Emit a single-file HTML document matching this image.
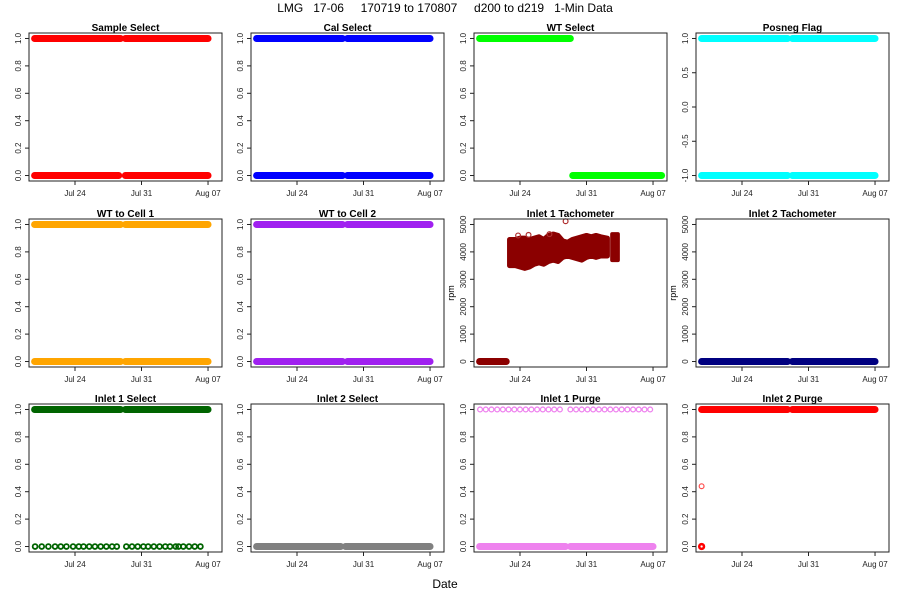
<!DOCTYPE html>
<html><head><meta charset="utf-8"><style>
body{margin:0;background:#fff}
svg{display:block;font-family:"Liberation Sans",Arial,sans-serif}
</style></head><body>
<svg id="c" width="900" height="600" xmlns="http://www.w3.org/2000/svg">
<text x="445" y="12" text-anchor="middle" font-size="12" xml:space="preserve">LMG   17-06     170719 to 170807     d200 to d219   1-Min Data</text>
<text x="445" y="588" text-anchor="middle" font-size="12">Date</text>
</svg>
<script>
// x in days since Jul 19 00:00
const xTickDays=[5,12,19];
const xTickLabels=["Jul 24","Jul 31","Aug 07"];
const binTicks=[0,0.2,0.4,0.6,0.8,1];
const binTickLabels=["0.0","0.2","0.4","0.6","0.8","1.0"];
const pnTicks=[-1,-0.5,0,0.5,1];
const pnTickLabels=["-1.0","-0.5","0.0","0.5","1.0"];
const rpmTicks=[0,1000,2000,3000,4000,5000];
const rpmTickLabels=["0","1000","2000","3000","4000","5000"];
// segments: [startDay,endDay,value]
const segSample=[[0.75,9.8,1],[10.3,19.0,1],[0.75,9.6,0],[10.3,19.0,0]];
const segCal=[[0.75,9.8,1],[10.3,19.0,1],[0.75,9.8,0],[10.3,19.0,0]];
const segWT=[[0.75,10.3,1],[10.55,19.9,0]];
const segPosneg=[[0.75,9.8,1],[10.3,19.0,1],[0.75,9.8,-1],[10.3,19.0,-1]];
const segWT1=[[0.75,9.8,1],[10.3,19.0,1],[0.75,9.8,0],[10.3,19.0,0]];
const segWT2=[[0.75,9.8,1],[10.3,19.0,1],[0.75,9.8,0],[10.3,19.0,0]];
const segTach1=[[0.75,3.55,0]];
// tachometer blob: day, low, high
const tachDays=[3.9,4.5,5.0,5.5,6.0,6.5,7.0,7.5,8.0,8.5,9.0,9.5,10.0,10.5,11.0,11.5,12.0,12.5,13.0,13.5,14.2];
const tachLow=[3500,3500,3450,3400,3450,3550,3600,3550,3650,3700,3650,3800,3850,3800,3750,3700,3800,3850,3800,3850,3850];
const tachHigh=[4450,4450,4500,4500,4450,4500,4550,4450,4600,4650,4600,4400,4350,4450,4500,4550,4600,4550,4600,4550,4500];
const tachBlock2=[[14.7,15.3,3700,4650]];
const tachOutlierDays=[9.8,4.8,5.9,8.1];
const tachOutlierVals=[5120,4600,4620,4650];
const segTach2=[[0.75,9.8,0],[10.3,19.0,0]];
const segIn1Sel=[[0.75,9.8,1],[10.3,19.0,1]];
const in1SelCircDays=[0.8,1.5,2.2,2.9,3.5,4.1,4.8,5.4,5.9,6.5,7.1,7.7,8.3,8.9,9.4,10.4,11.0,11.6,12.2,12.7,13.3,13.9,14.5,15.0,15.6,15.9,16.4,17.0,17.6,18.2];
const segIn2Sel=[[0.75,9.6,0],[10.1,19.0,0]];
const segIn1Purge=[[0.75,9.8,0],[10.3,19.0,0]];
const in1PurgeCircDays=[0.8,1.4,2.0,2.6,3.2,3.8,4.4,5.0,5.6,6.2,6.8,7.4,8.0,8.6,9.2,10.3,10.9,11.5,12.1,12.7,13.3,13.9,14.5,15.1,15.7,16.3,16.9,17.5,18.1,18.7];
const segIn2Purge=[[0.75,9.8,1],[10.3,19.0,1]];
const in2PurgeCircDays=[0.75,0.75];
const in2PurgeCircVals=[0.44,0];

const svg=document.getElementById('c');
const NS='http://www.w3.org/2000/svg';
function mk(t,a){const e=document.createElementNS(NS,t);for(const k in a)e.setAttribute(k,a[k]);return e;}
const colL=[29,251,474,696], rowT=[33,219,404], W=193, H=148;
const x0=0.16,x1=20.47;

function panel(ci,ri,title,name,yr,ticks,labels,color,draw,ylab){
  const L=colL[ci],T=rowT[ri];
  const g=mk('g',{});
  
  
  svg.appendChild(g);
  const pad=(yr[1]-yr[0])*0.04;
  const ymin=yr[0]-pad,ymax=yr[1]+pad;
  const X=d=>L+(d-x0)/(x1-x0)*W;
  const Y=v=>T+H-(v-ymin)/(ymax-ymin)*H;
  const t=mk('text',{x:L+W/2,y:T-2,'text-anchor':'middle','font-size':'10','font-weight':'bold'});
  
  
  t.textContent=title;g.appendChild(t);
  const data=mk('g',{});
  
  
  g.appendChild(data);
  draw(data,X,Y,color);
  const box=mk('rect',{x:L,y:T,width:W,height:H,fill:'none',stroke:'#222','stroke-width':1});
  
  
  g.appendChild(box);
  ticks.forEach((v,i)=>{
    const y=Y(v);
    g.appendChild(mk('line',{x1:L,x2:L-4,y1:y,y2:y,stroke:'#222'}));
    const tx=mk('text',{x:L-8,y:y,'text-anchor':'middle','font-size':'8',fill:'#222',transform:`rotate(-90 ${L-8} ${y})`});
    
    
    tx.textContent=labels[i];g.appendChild(tx);
  });
  xTickDays.forEach((d,i)=>{
    const x=X(d);
    g.appendChild(mk('line',{x1:x,x2:x,y1:T+H,y2:T+H+4,stroke:'#222'}));
    const tx=mk('text',{x:x,y:T+H+15,'text-anchor':'middle','font-size':'8',fill:'#222'});
    
    
    tx.textContent=xTickLabels[i];g.appendChild(tx);
  });
  if(ylab){
    const tx=mk('text',{x:L-20,y:T+H/2,'text-anchor':'middle','font-size':'9',transform:`rotate(-90 ${L-20} ${T+H/2})`});
    
    
    tx.textContent=ylab;g.appendChild(tx);
  }
}
function segs(s){return (g,X,Y,c)=>{s.forEach(q=>{
  const l=mk('line',{x1:X(q[0]),x2:X(q[1]),y1:Y(q[2]),y2:Y(q[2]),stroke:c,'stroke-width':7,'stroke-linecap':'round'});
  
  
  g.appendChild(l);});};}
function circles(g,X,Y,days,vals,c,sw){days.forEach((d,i)=>{
  const e=mk('circle',{cx:X(d),cy:Y(vals[i]),r:2.4,fill:'none',stroke:c,'stroke-width':sw||1.5});
  
  
  g.appendChild(e);});}
function combo(s,days,vals,sw){return (g,X,Y,c)=>{segs(s)(g,X,Y,c);circles(g,X,Y,days,vals,c,sw);};}

panel(0,0,'Sample Select','sample-select',[0,1],binTicks,binTickLabels,'#ff0000',segs(segSample));
panel(1,0,'Cal Select','cal-select',[0,1],binTicks,binTickLabels,'#0000ff',segs(segCal));
panel(2,0,'WT Select','wt-select',[0,1],binTicks,binTickLabels,'#00ff00',segs(segWT));
panel(3,0,'Posneg Flag','posneg-flag',[-1,1],pnTicks,pnTickLabels,'#00ffff',segs(segPosneg));
panel(0,1,'WT to Cell 1','wt-to-cell-1',[0,1],binTicks,binTickLabels,'#ffa500',segs(segWT1));
panel(1,1,'WT to Cell 2','wt-to-cell-2',[0,1],binTicks,binTickLabels,'#a020f0',segs(segWT2));
panel(2,1,'Inlet 1 Tachometer','inlet-1-tachometer',[0,5000],rpmTicks,rpmTickLabels,'#8b0000',(g,X,Y,c)=>{
  segs(segTach1)(g,X,Y,c);
  let pts=tachDays.map((d,i)=>X(d)+','+Y(tachHigh[i]));
  for(let i=tachDays.length-1;i>=0;i--)pts.push(X(tachDays[i])+','+Y(tachLow[i]));
  const p=mk('polygon',{points:pts.join(' '),fill:c,stroke:c,'stroke-width':5,'stroke-linejoin':'round'});
  
  
  g.appendChild(p);
  tachBlock2.forEach(b=>{
    const r=mk('rect',{x:X(b[0]),y:Y(b[3]),width:X(b[1])-X(b[0]),height:Y(b[2])-Y(b[3]),fill:c,stroke:c,'stroke-width':4,'stroke-linejoin':'round'});
    
    
    g.appendChild(r);});
  circles(g,X,Y,tachOutlierDays,tachOutlierVals,'#b03030',1.2);
},'rpm');
panel(3,1,'Inlet 2 Tachometer','inlet-2-tachometer',[0,5000],rpmTicks,rpmTickLabels,'#000080',segs(segTach2),'rpm');
panel(0,2,'Inlet 1 Select','inlet-1-select',[0,1],binTicks,binTickLabels,'#006400',combo(segIn1Sel,in1SelCircDays,in1SelCircDays.map(()=>0),1.8));
panel(1,2,'Inlet 2 Select','inlet-2-select',[0,1],binTicks,binTickLabels,'#808080',segs(segIn2Sel));
panel(2,2,'Inlet 1 Purge','inlet-1-purge',[0,1],binTicks,binTickLabels,'#ee82ee',combo(segIn1Purge,in1PurgeCircDays,in1PurgeCircDays.map(()=>1),1.3));
panel(3,2,'Inlet 2 Purge','inlet-2-purge',[0,1],binTicks,binTickLabels,'#ff0000',(g,X,Y,c)=>{
  segs(segIn2Purge)(g,X,Y,c);
  circles(g,X,Y,[in2PurgeCircDays[0]],[in2PurgeCircVals[0]],'#ff5050',1.2);
  circles(g,X,Y,[in2PurgeCircDays[1]],[in2PurgeCircVals[1]],c,2.5);
});
</script>
</body></html>
